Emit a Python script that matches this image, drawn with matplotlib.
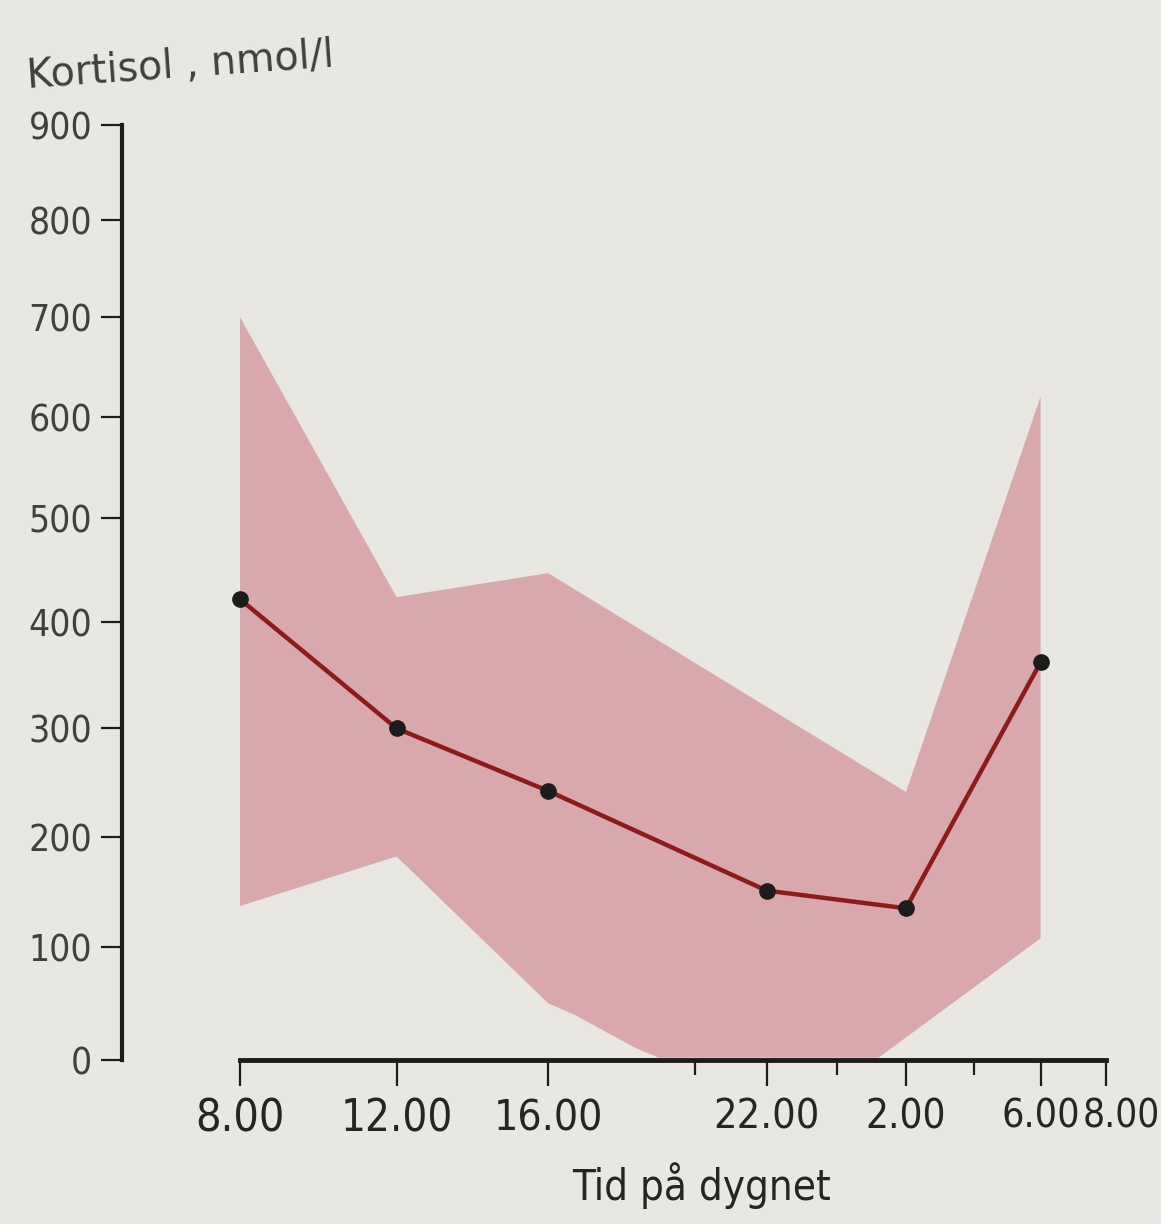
import numpy as np
import matplotlib
matplotlib.use("Agg")
import matplotlib.pyplot as plt
from matplotlib import font_manager
from matplotlib.font_manager import FontProperties
from matplotlib.textpath import TextPath
from matplotlib.transforms import ScaledTranslation

# cortisol over the day, hours counted from 8.00
hours = [0, 4, 8, 14, 18, 22]
mean_vals = [422, 300, 242, 151, 135, 362]

# shaded normal range (upper and lower edge)
upper_hours = [0, 4, 8, 18, 22]
upper_vals = [700, 424, 447, 241, 620]
lower_hours = [0, 4, 8, 8.7, 9.6, 10.4, 11, 17.2, 22]
lower_vals = [137, 182, 50, 40, 24, 10, 2, 2, 108]

major_ticks = [0, 4, 8, 14, 18, 22, 24]
major_labels = ["8.00", "12.00", "16.00", "22.00", "2.00", "6.00", "8.00"]
minor_ticks = [12, 16, 20]
y_ticks = [0, 100, 200, 300, 400, 500, 600, 700, 800, 900]

BG = "#e8e7e1"
PINK = "#d9a8ac"
RED = "#8e1b1b"
INK = "#1c1c1c"

# the source is a photo of a book page, shot at a slant; mild quadratic
# scales reproduce the squeezed spacing towards the right and the top
AX_, BX_ = 39.75, 0.1528
AY_, BY_ = 1.1411, 1.111e-4

def fx(h):
    h = np.asarray(h, float)
    return AX_ * h - BX_ * h * h

def fx_inv(p):
    p = np.asarray(p, float)
    return (AX_ - np.sqrt(np.clip(AX_ ** 2 - 4 * BX_ * p, 0, None))) / (2 * BX_)

def fy(v):
    v = np.asarray(v, float)
    return AY_ * v - BY_ * v * v

def fy_inv(p):
    p = np.asarray(p, float)
    return (AY_ - np.sqrt(np.clip(AY_ ** 2 - 4 * BY_ * p, 0, None))) / (2 * BY_)


def ink(text, fp, size=20):
    # width and height of the glyph ink in pixels at 100 dpi
    e = TextPath((0, 0), text, size=size, prop=fp).get_extents()
    return e.width * 100 / 72, e.height * 100 / 72

BASES = ("Noto Sans", "Roboto", "Open Sans", "Liberation Sans", "DejaVu Sans")

def pick_narrow():
    # the book's face is a plain narrow sans: "12.00" is ~103 px wide
    # at ~33 px digit height
    cands = [FontProperties(family="Liberation Sans")]
    for f in font_manager.fontManager.ttflist:
        if f.style != "normal" or f.weight not in (400, "normal", "regular", "book"):
            continue
        st = str(f.stretch).lower()
        name = f.name
        if "extra" in st or "ultra" in st or "Extra" in name or "Ultra" in name:
            continue
        base_ok = any(name == b or name in (b + " Condensed", b + " SemiCondensed",
                                            b + " Narrow", b + " Semi Condensed")
                      for b in BASES)
        narrow_ok = "condensed" in st or "Condensed" in name or "Narrow" in name
        if base_ok and narrow_ok:
            cands.append(FontProperties(fname=f.fname))

    def score(fp):
        w, h = ink("12.00", fp)
        return abs(w / h - 103 / 33)
    return min(cands, key=score)

narrow = pick_narrow()
xt_size = 20 * 33 / ink("12.00", narrow)[1]
yt_size = 20 * 28 / ink("600", narrow)[1]
xl_size = 20 * 258 / ink("Tid på dygnet", narrow)[0]

fig = plt.figure(figsize=(11.61, 12.24), dpi=100, facecolor=BG)
ax = fig.add_axes([122 / 1161, 164 / 1224, 988 / 1161, 935 / 1224])
ax.patch.set_visible(False)
ax.set_xscale("function", functions=(fx, fx_inv))
ax.set_yscale("function", functions=(fy, fy_inv))
ax.set_xlim(float(fx_inv(-118)), float(fx_inv(870)))
ax.set_ylim(0, 900)

ax.fill(upper_hours + lower_hours[::-1], upper_vals + lower_vals[::-1],
        color=PINK, lw=0, zorder=1)
ax.plot(hours, mean_vals, color=RED, lw=3.2, zorder=2)
ax.plot(hours, mean_vals, "o", color=INK, ms=11, zorder=3)

for s in ["top", "right"]:
    ax.spines[s].set_visible(False)
ax.spines["left"].set_bounds(0, 900)
ax.spines["left"].set_linewidth(3)
ax.spines["left"].set_color(INK)
ax.spines["bottom"].set_bounds(0, 24)
ax.spines["bottom"].set_linewidth(3.5)
ax.spines["bottom"].set_color(INK)

ax.set_yticks(y_ticks)
ax.set_yticklabels([str(v) for v in y_ticks], fontproperties=narrow)
ax.set_yticks([], minor=True)
ax.tick_params(axis="y", direction="out", length=15, width=1.6, pad=6.5,
               labelsize=yt_size, labelcolor="#404040", color=INK)

ax.set_xticks(major_ticks)
ax.set_xticklabels(major_labels, fontproperties=narrow)
ax.set_xticks(minor_ticks, minor=True)
ax.tick_params(axis="x", which="major", direction="out", length=19, width=1.6,
               pad=8, labelsize=xt_size, labelcolor="#252525", color=INK)
ax.tick_params(axis="x", which="minor", direction="out", length=11, width=1.6,
               color=INK)

# labels further right look a little smaller in the photo
for h, lab in zip(major_ticks, ax.get_xticklabels()):
    lab.set_fontsize(xt_size * ((AX_ - 2 * BX_ * h) / (AX_ - 2 * BX_ * 4)) ** 0.7)

# last "8.00" sits a bit to the right so it clears "6.00"
last = ax.get_xticklabels()[-1]
last.set_transform(last.get_transform() + ScaledTranslation(0.15, 0, fig.dpi_scale_trans))

fig.text(701 / 1161, 24 / 1224, "Tid på dygnet", fontproperties=narrow, fontsize=xl_size,
         color="#252525", ha="center", va="baseline")
fig.text(28 / 1161, 0.928, "Kortisol , nmol/l", family="DejaVu Sans", fontsize=28.5,
         color="#404040", ha="left", va="baseline", rotation=4, rotation_mode="anchor")

fig.savefig("out.png", dpi=100, facecolor=BG)
